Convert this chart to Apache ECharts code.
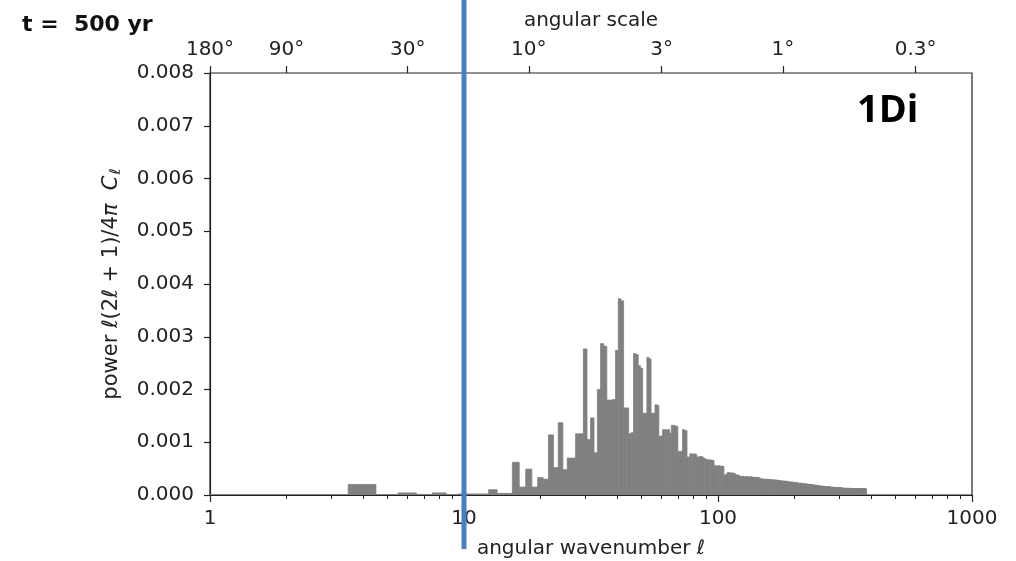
<!DOCTYPE html>
<html>
<head>
<meta charset="utf-8">
<script src="https://cdn.jsdelivr.net/npm/echarts@6/dist/echarts.min.js"></script>
<style>
html,body{margin:0;padding:0;background:#fff;}
#chart{width:1016px;height:561px;}
</style>
</head>
<body>
<div id="chart"></div>
<script>
// Power per angular wavenumber l = 1..383
const power = [
  0.000005,0.000005,0.000005,0.00020,0.000005,0.00004,0.00001,0.00004,0.00001,0.00002, // 1-10
  0.00002,0.00002,0.00010,0.00003,0.00003,0.00062,0.00015,0.00049,0.00015,0.00033,     // 11-20
  0.00030,0.00114,0.00052,0.00137,0.00048,0.00070,0.00070,0.00116,0.00116,0.00277,     // 21-30
  0.00105,0.00146,0.00080,0.00200,0.00287,0.00282,0.00180,0.00180,0.00181,0.00274,     // 31-40
  0.00372,0.00368,0.00165,0.00165,0.00116,0.00118,0.00268,0.00266,0.00245,0.00240,     // 41-50
  0.00155,0.00155,0.00261,0.00258,0.00155,0.00155,0.00171,0.00170,0.00111,0.00112,     // 51-60
  0.00124,0.00124,0.00123,0.00124,0.00117,0.00132,0.00132,0.00131,0.00130,0.00082,     // 61-70
  0.00082,0.00083,0.00124,0.00123,0.00122,0.00072,0.00072,0.00078,0.00078,0.00077,     // 71-80
  0.00078,0.00077,0.00072,0.00072,0.00073,0.00073,0.00072,0.00069,0.00069,0.00067,     // 81-90
  0.00067,0.00066,0.00067,0.00066,0.00066,0.00065,0.00055,0.00056,0.00055,0.00055,     // 91-100
  0.00056,0.00055,0.00054,0.00055,0.00054,0.00038,0.00038,0.00039,0.00042,0.00043,     // 101-110
  0.00042,0.00042,0.00041,0.00042,0.00041,0.00041,0.00040,0.00038,0.00038,0.00038,     // 111-120
  0.00037,0.00036,0.00035,0.00035,0.00036,0.00035,0.00034,0.00035,0.00035,0.00034,     // 121-130
  0.00035,0.00035,0.00034,0.00034,0.00035,0.00034,0.00034,0.00034,0.00033,0.00034,     // 131-140
  0.00033,0.00033,0.00034,0.00033,0.00032,0.00033,0.00031,0.00030,0.00030,0.00031,     // 141-150
  0.00030,0.00030,0.00029,0.00030,0.00030,0.00029,0.00030,0.00029,0.00029,0.00030,     // 151-160
  0.00029,0.00029,0.00028,0.00029,0.00029,0.00029,0.00028,0.00028,0.00029,0.00028,     // 161-170
  0.00028,0.00028,0.00027,0.00028,0.00027,0.00027,0.00027,0.00026,0.00027,0.00026,     // 171-180
  0.00026,0.00027,0.00026,0.00026,0.00025,0.00026,0.00026,0.00026,0.00025,0.00025,     // 181-190
  0.00025,0.00024,0.00025,0.00024,0.00024,0.00025,0.00024,0.00024,0.00023,0.00024,     // 191-200
  0.00023,0.00023,0.00024,0.00023,0.00023,0.00023,0.00022,0.00023,0.00022,0.00022,     // 201-210
  0.00023,0.00022,0.00022,0.00022,0.00022,0.00021,0.00022,0.00021,0.00021,0.00021,     // 211-220
  0.00022,0.00021,0.00021,0.00020,0.00021,0.00020,0.00020,0.00021,0.00020,0.00020,     // 221-230
  0.00020,0.00020,0.00020,0.00019,0.00020,0.00020,0.00019,0.00019,0.00019,0.00019,     // 231-240
  0.00019,0.00019,0.00018,0.00019,0.00018,0.00018,0.00018,0.00018,0.00018,0.00018,     // 241-250
  0.00018,0.00017,0.00017,0.00017,0.00017,0.00017,0.00017,0.00017,0.00017,0.00017,     // 251-260
  0.00017,0.00016,0.00017,0.00016,0.00016,0.00016,0.00016,0.00016,0.00016,0.00016,     // 261-270
  0.00016,0.00016,0.00015,0.00016,0.00015,0.00015,0.00016,0.00015,0.00015,0.00015,     // 271-280
  0.00015,0.00015,0.00015,0.00015,0.00015,0.00014,0.00015,0.00015,0.00014,0.00014,     // 281-290
  0.00014,0.00014,0.00014,0.00014,0.00014,0.00014,0.00014,0.00014,0.00014,0.00014,     // 291-300
  0.00014,0.00014,0.00013,0.00014,0.00014,0.00013,0.00014,0.00013,0.00013,0.00014,     // 301-310
  0.00013,0.00013,0.00013,0.00013,0.00013,0.00013,0.00013,0.00013,0.00013,0.00013,     // 311-320
  0.00013,0.00013,0.00013,0.00013,0.00012,0.00013,0.00013,0.00012,0.00013,0.00013,     // 321-330
  0.00012,0.00012,0.00013,0.00012,0.00012,0.00012,0.00012,0.00012,0.00012,0.00012,     // 331-340
  0.00012,0.00012,0.00012,0.00012,0.00012,0.00012,0.00012,0.00012,0.00012,0.00012,     // 341-350
  0.00012,0.00012,0.00012,0.00012,0.00012,0.00012,0.00012,0.00012,0.00012,0.00012,     // 351-360
  0.00012,0.00012,0.00011,0.00012,0.00012,0.00012,0.00012,0.00011,0.00012,0.00012,     // 361-370
  0.00012,0.00012,0.00012,0.00012,0.00012,0.00012,0.00011,0.00012,0.00012,0.00012,     // 371-380
  0.00012,0.00012,0.00012                                                              // 381-383
];
// angular wavenumber of each bar (l = 1, 2, 3, ...)
const ell = power.map((_, i) => i + 1);

// Bottom axis tick labels
const bottomTicks = [1, 10, 100, 1000];
// Top axis: angular scale labels (degrees), placed at l = 180 / angle
const angleLabels = ['180°', '90°', '30°', '10°', '3°', '1°', '0.3°'];
const angleValues = [180, 90, 30, 10, 3, 1, 0.3];
// y-axis ticks
const yTicks = [0, 0.001, 0.002, 0.003, 0.004, 0.005, 0.006, 0.007, 0.008];

const FONT = 'DejaVu Sans';
const AXIS_COLOR = '#222';
const BAR_COLOR = '#808080';

const chart = echarts.init(document.getElementById('chart'), null, {renderer: 'canvas'});

const angleEll = angleValues.map(a => 180 / a);
const minorVals = [];
[1, 10, 100].forEach(d => { for (let k = 2; k <= 9; k++) minorVals.push(k * d); });

const option = {
  backgroundColor: '#fff',
  animation: false,
  title: {
    text: 't =  500 yr',
    left: 17, top: 9,
    textStyle: {fontFamily: FONT, fontWeight: 'bold', fontSize: 22, color: '#111'}
  },
  grid: {
    left: 210, right: 44, top: 73, bottom: 66,
    containLabel: false, outerBoundsMode: 'none',
    show: true, borderColor: AXIS_COLOR, borderWidth: 1.2, backgroundColor: 'transparent'
  },
  xAxis: [
    {
      type: 'log', logBase: 10, min: 1, max: 1000, position: 'bottom',
      name: '{n|angular wavenumber }{i|ℓ}',
      nameLocation: 'middle', nameGap: 44,
      nameTextStyle: {
        rich: {
          n: {fontFamily: FONT, fontSize: 20, color: AXIS_COLOR},
          i: {fontFamily: FONT, fontSize: 20, fontStyle: 'italic', color: AXIS_COLOR}
        }
      },
      axisLine: {show: true, lineStyle: {color: AXIS_COLOR, width: 1.2}},
      axisTick: {show: true, length: 7, inside: false, lineStyle: {color: AXIS_COLOR, width: 1.2}},
      minorTick: {show: false},
      splitLine: {show: false},
      axisLabel: {
        fontFamily: FONT, fontSize: 20, color: AXIS_COLOR, margin: 14,
        formatter: v => (bottomTicks.indexOf(Math.round(v)) >= 0 ? String(Math.round(v)) : '')
      }
    },
    {
      // minor ticks of the log axis
      type: 'log', logBase: 10, min: 1, max: 1000, position: 'bottom',
      axisLine: {show: false},
      axisTick: {show: true, length: 4, customValues: minorVals, lineStyle: {color: AXIS_COLOR, width: 1}},
      axisLabel: {show: false},
      splitLine: {show: false}
    },
    {
      type: 'log', logBase: 10, min: 1, max: 1000, position: 'top',
      name: 'angular scale',
      nameLocation: 'middle', nameGap: 42,
      nameTextStyle: {fontFamily: FONT, fontSize: 20, color: AXIS_COLOR},
      axisLine: {show: false},
      axisTick: {show: true, length: 7, customValues: angleEll, lineStyle: {color: AXIS_COLOR, width: 1.2}},
      axisLabel: {
        show: true, customValues: angleEll,
        fontFamily: FONT, fontSize: 20, color: AXIS_COLOR, margin: 13,
        formatter: v => {
          let best = 0, bd = Infinity;
          angleEll.forEach((e, i) => { const d = Math.abs(Math.log(e) - Math.log(v)); if (d < bd) { bd = d; best = i; } });
          return angleLabels[best];
        }
      },
      splitLine: {show: false}
    }
  ],
  yAxis: {
    type: 'value', min: yTicks[0], max: yTicks[yTicks.length - 1], interval: 0.001,
    name: '{n|power }{i|ℓ}{n|(2}{i|ℓ}{n| + 1)/4}{i|π  C}{s|ℓ}',
    nameLocation: 'middle', nameGap: 86, nameRotate: 90,
    nameTextStyle: {
      rich: {
        n: {fontFamily: FONT, fontSize: 21, color: AXIS_COLOR},
        i: {fontFamily: FONT, fontSize: 21, fontStyle: 'italic', color: AXIS_COLOR},
        s: {fontFamily: FONT, fontSize: 15, fontStyle: 'italic', color: AXIS_COLOR, padding: [10, 0, 0, 1]}
      }
    },
    axisLine: {show: true, lineStyle: {color: AXIS_COLOR, width: 1.2}},
    axisTick: {show: true, length: 6, lineStyle: {color: AXIS_COLOR, width: 1.2}},
    splitLine: {show: false},
    axisLabel: {fontFamily: FONT, fontSize: 20, color: AXIS_COLOR, margin: 16, formatter: v => v.toFixed(3)}
  },
  series: [{
    type: 'custom',
    xAxisIndex: 0, yAxisIndex: 0,
    clip: true,
    data: ell.map((l, i) => [l, power[i]]),
    encode: {x: 0, y: 1},
    renderItem: function (params, api) {
      const l = api.value(0), v = api.value(1);
      const p0 = api.coord([l - 0.5, v]);
      const p1 = api.coord([l + 0.5, 0]);
      return {
        type: 'rect',
        shape: {x: p0[0], y: p0[1], width: p1[0] - p0[0], height: p1[1] - p0[1]},
        style: {fill: BAR_COLOR, stroke: BAR_COLOR, lineWidth: 0.8}
      };
    }
  }]
};
chart.setOption(option);

// Annotations: blue marker at l = 10 and panel label
const xTen = chart.convertToPixel({xAxisIndex: 0}, 10);
chart.setOption({
  graphic: [
    {
      type: 'line', z: 100,
      shape: {x1: xTen, y1: 0, x2: xTen, y2: 549},
      style: {stroke: '#4a7ebf', lineWidth: 5}
    },
    {
      type: 'text', z: 100, left: 857, top: 92,
      style: {text: '1Di', fontFamily: 'Open Sans', fontWeight: 'bold', fontSize: 38, fill: '#000'}
    }
  ]
});
</script>
</body>
</html>
